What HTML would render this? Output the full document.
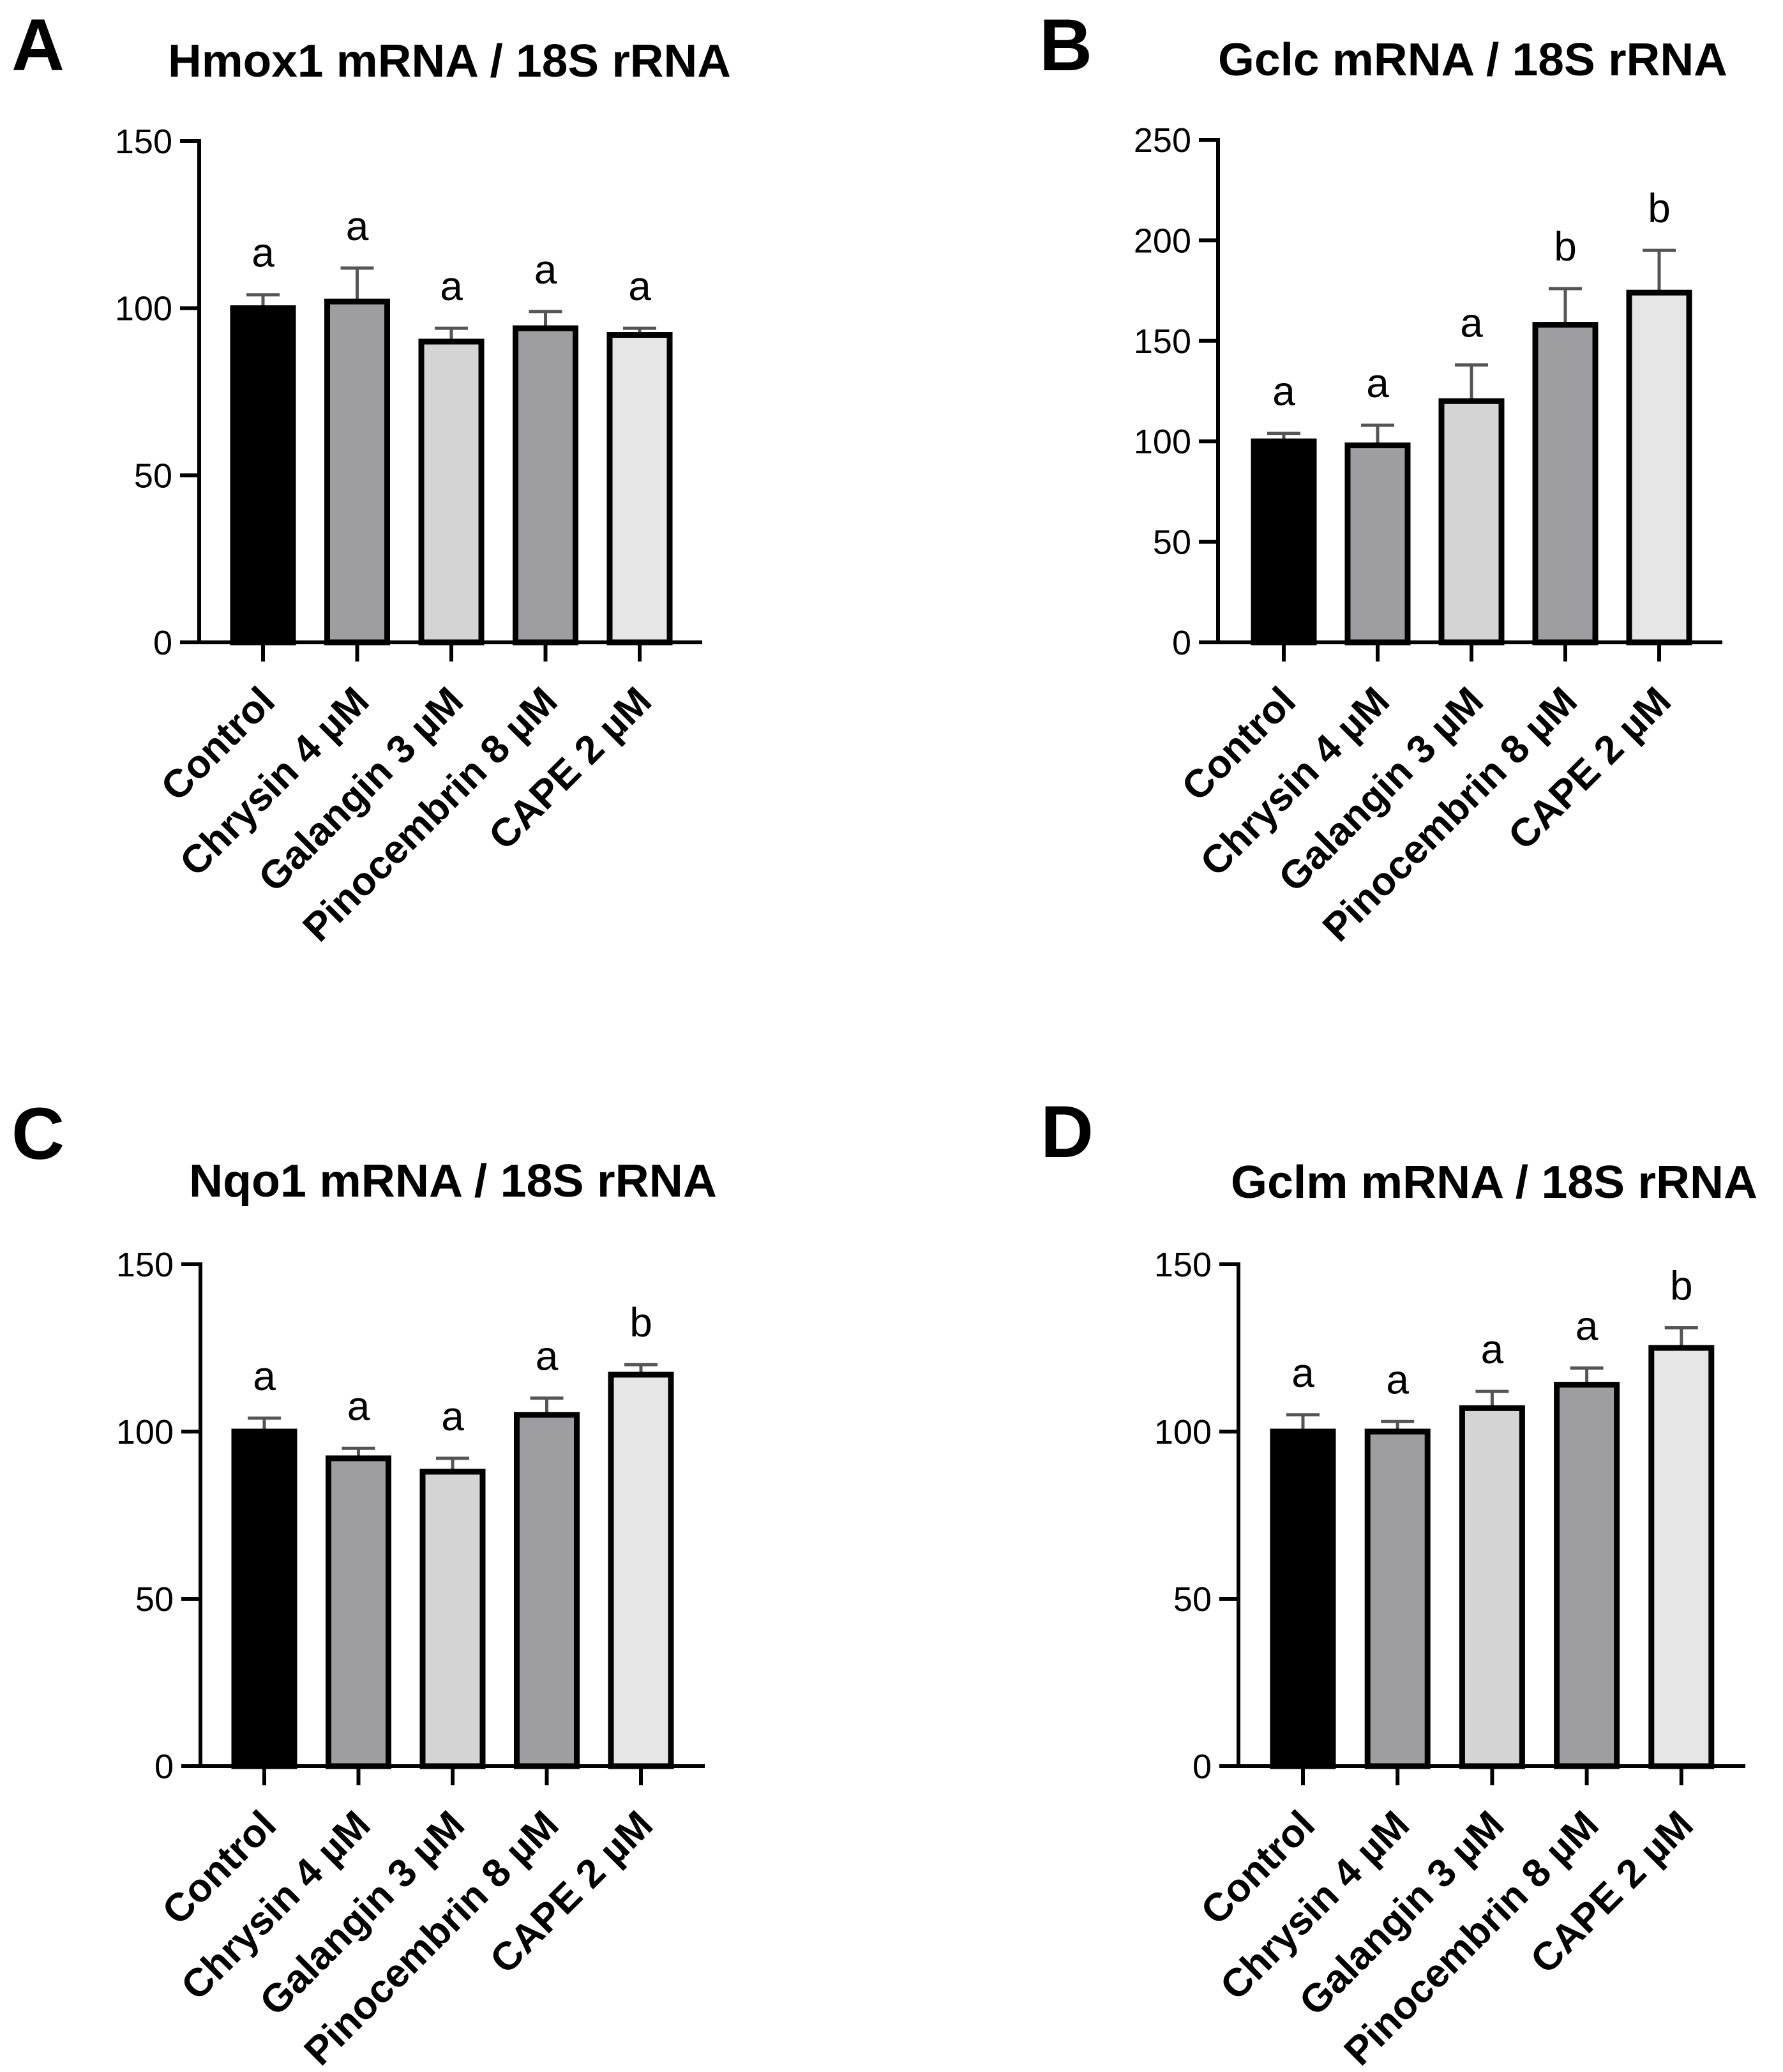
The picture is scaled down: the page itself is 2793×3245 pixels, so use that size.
<!DOCTYPE html>
<html><head><meta charset="utf-8"><style>
html,body{margin:0;padding:0;background:#fff;}
svg{display:block;font-family:"Liberation Sans",Arial,sans-serif;}
</style></head><body>
<svg id="fig" width="2793" height="3245" viewBox="0 0 2793 3245" xmlns="http://www.w3.org/2000/svg"></svg>
<script>
const categories = ["Control","Chrysin 4 \u00b5M","Galangin 3 \u00b5M","Pinocembrin 8 \u00b5M","CAPE 2 \u00b5M"];
const hmox1Values = [100,102,90,94,92];
const hmox1Errors = [4,10,4,5,2];
const hmox1Letters = ["a","a","a","a","a"];
const gclcValues = [100,98,120,158,174];
const gclcErrors = [4,10,18,18,21];
const gclcLetters = ["a","a","a","b","b"];
const nqo1Values = [100,92,88,105,117];
const nqo1Errors = [4,3,4,5,3];
const nqo1Letters = ["a","a","a","a","b"];
const gclmValues = [100,100,107,114,125];
const gclmErrors = [5,3,5,5,6];
const gclmLetters = ["a","a","a","a","b"];
const ticks150 = [0,50,100,150];
const ticks250 = [0,50,100,150,200,250];
const fills = ["#000000","#9e9ea2","#d4d4d4","#9e9ea2","#e6e6e6"];

const NS="http://www.w3.org/2000/svg";
const svg=document.getElementById('fig');
function mk(tag,attrs,parent,text){const e=document.createElementNS(NS,tag);for(const k in attrs)e.setAttribute(k,attrs[k]);if(text!==undefined)e.textContent=text;(parent||svg).appendChild(e);return e;}

function panel(p){
  const g=mk('g',{});
  
  
  const yS=v=>p.y0-(v/p.ymax)*(p.y0-p.ytop);
  const xS=i=>p.x0+i*p.step;
  const L=mk('text',{x:p.lx,y:p.ly,'font-size':115,'font-weight':'bold',fill:'#000'},g,p.letter);
  
  
  const T=mk('text',{x:p.tx1,y:p.ty,'font-size':72,'font-weight':'bold',fill:'#000',textLength:p.tx2-p.tx1,lengthAdjust:'spacingAndGlyphs'},g,p.title);
  
  
  p.vals.forEach((v,i)=>{
    const cx=xS(i), w=94;
    const top=yS(v+p.errs[i]);
    const eb=mk('line',{x1:cx,y1:yS(v),x2:cx,y2:top,stroke:'#555',"stroke-width":5},g);
    
    
    const cap=mk('line',{x1:cx-26,y1:top,x2:cx+26,y2:top,stroke:'#555',"stroke-width":5},g);
    
    
    const r=mk('rect',{x:cx-w/2,y:yS(v),width:w,height:p.y0-yS(v),fill:fills[i],stroke:'#000','stroke-width':9},g);
    
    
    const s=mk('text',{x:cx,y:top-44,'font-size':64,'text-anchor':'middle',fill:'#000'},g,p.letters[i]);
    
    
    const tk=mk('line',{x1:cx,y1:p.y0,x2:cx,y2:p.y0+30,stroke:'#000','stroke-width':6},g);
    
    
    const lx=cx+22, ly=p.y0+96;
    const lab=mk('text',{x:lx,y:ly,'font-size':62,'font-weight':'bold','text-anchor':'end',fill:'#000',transform:`rotate(-45 ${lx} ${ly})`},g,categories[i]);
    
    
  });
  const ya=mk('line',{x1:p.ax,y1:p.ytop-3,x2:p.ax,y2:p.y0+3,stroke:'#000','stroke-width':6},g);
  
  
  const xa=mk('line',{x1:p.ax-30,y1:p.y0,x2:p.xend,y2:p.y0,stroke:'#000','stroke-width':6},g);
  
  
  p.ticks.forEach(t=>{
    const y=yS(t);
    const l=mk('line',{x1:p.ax-30,y1:y,x2:p.ax,y2:y,stroke:'#000','stroke-width':6},g);
    
    
    const tt=mk('text',{x:p.ax-42,y:y+19,'font-size':54,'text-anchor':'end',fill:'#000'},g,String(t));
    
    
  });
}

panel({id:'hmox1',letter:'A',lx:18,ly:110,title:'Hmox1 mRNA / 18S rRNA',tx1:263,tx2:1145,ty:120,
  ax:312,ytop:221,y0:1006,ymax:150,x0:412,step:147.5,xend:1100,ticks:ticks150,vals:hmox1Values,errs:hmox1Errors,letters:hmox1Letters});
panel({id:'gclc',letter:'B',lx:1628,ly:110,title:'Gclc mRNA / 18S rRNA',tx1:1908,tx2:2706,ty:118,
  ax:1908,ytop:219,y0:1006,ymax:250,x0:2011,step:147,xend:2698,ticks:ticks250,vals:gclcValues,errs:gclcErrors,letters:gclcLetters});
panel({id:'nqo1',letter:'C',lx:18,ly:1815,title:'Nqo1 mRNA / 18S rRNA',tx1:296,tx2:1123,ty:1874,
  ax:314,ytop:1980,y0:2766,ymax:150,x0:414,step:147.5,xend:1104,ticks:ticks150,vals:nqo1Values,errs:nqo1Errors,letters:nqo1Letters});
panel({id:'gclm',letter:'D',lx:1630,ly:1812,title:'Gclm mRNA / 18S rRNA',tx1:1928,tx2:2753,ty:1876,
  ax:1940,ytop:1980,y0:2766,ymax:150,x0:2041,step:148.2,xend:2734,ticks:ticks150,vals:gclmValues,errs:gclmErrors,letters:gclmLetters});
</script>
</body></html>
